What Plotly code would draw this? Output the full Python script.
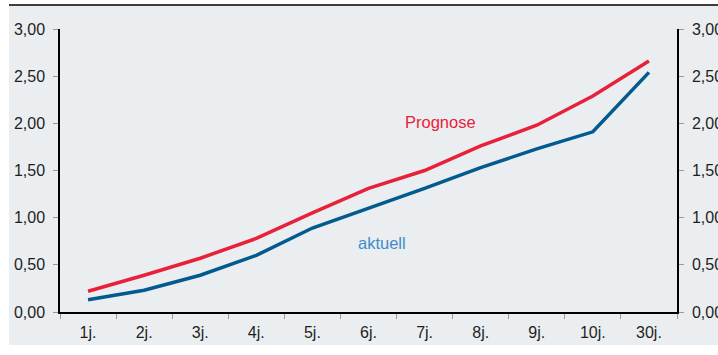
import plotly.graph_objects as go

categories = ["1j.", "2j.", "3j.", "4j.", "5j.", "6j.", "7j.", "8j.", "9j.", "10j.", "30j."]
prognose = [0.22, 0.39, 0.57, 0.78, 1.05, 1.31, 1.50, 1.76, 1.98, 2.29, 2.66]
aktuell = [0.13, 0.23, 0.39, 0.60, 0.89, 1.10, 1.31, 1.53, 1.73, 1.91, 2.54]
y_ticks = [0, 0.5, 1.0, 1.5, 2.0, 2.5, 3.0]
y_tick_labels = ["0,00", "0,50", "1,00", "1,50", "2,00", "2,50", "3,00"]

W, H = 718, 355
L, R, T, B = 60, 41, 29, 43
pw, ph = W - L - R, H - T - B


def px(x):
    return (x - L) / pw


def py(y):
    return (H - B - y) / ph


RED = "#E8213B"
BLUE = "#035A8E"
LABEL_BLUE = "#3D8CC9"
BG = "#EBEEF1"
FAMILY = "Liberation Sans, Arial, sans-serif"

fig = go.Figure()
fig.add_trace(go.Scatter(x=categories, y=prognose, mode="lines",
                         line=dict(color=RED, width=3.5), hoverinfo="skip"))
fig.add_trace(go.Scatter(x=categories, y=aktuell, mode="lines",
                         line=dict(color=BLUE, width=3.5), hoverinfo="skip"))
fig.add_trace(go.Scatter(x=categories, y=aktuell, mode="lines", yaxis="y2",
                         line=dict(width=0), opacity=0, hoverinfo="skip"))

axis_font = dict(family=FAMILY, size=16, color="#1e1e1e")

y_common = dict(
    range=[0, 3], tickvals=y_ticks, ticktext=y_tick_labels,
    ticks="outside", ticklen=5, tickcolor="#999999",
    showgrid=False, zeroline=False, showline=True,
    linecolor="black", linewidth=1.5, tickfont=axis_font,
    ticklabelstandoff=5, automargin=False,
)

fig.update_layout(
    width=W, height=H,
    margin=dict(l=L, r=R, t=T, b=B),
    paper_bgcolor="white",
    plot_bgcolor=BG,
    showlegend=False,
    font=axis_font,
    xaxis=dict(
        type="category", tickson="boundaries", ticks="outside", ticklen=5,
        tickcolor="#999999", showgrid=False, zeroline=False,
        showline=True, linecolor="black", linewidth=1.5,
        tickfont=axis_font, range=[-0.5, 10.5], ticklabelstandoff=5,
        automargin=False,
    ),
    yaxis=y_common,
    yaxis2=dict(overlaying="y", side="right", **y_common),
    shapes=[
        dict(type="rect", xref="paper", yref="paper", layer="below",
             x0=px(9), x1=px(W + 5), y0=py(345), y1=py(5),
             fillcolor=BG, line=dict(width=0)),
        dict(type="line", xref="paper", yref="paper",
             x0=px(9), x1=px(W + 5), y0=py(5), y1=py(5),
             line=dict(color="black", width=1.5)),
    ],
    annotations=[
        dict(x=px(440), y=py(122), xref="paper", yref="paper", text="Prognose",
             xanchor="center", yanchor="middle", showarrow=False,
             font=dict(family=FAMILY, size=16.5, color=RED)),
        dict(x=px(382), y=py(243), xref="paper", yref="paper", text="aktuell",
             xanchor="center", yanchor="middle", showarrow=False,
             font=dict(family=FAMILY, size=16.5, color=LABEL_BLUE)),
    ],
)

fig.write_html("out.html")
